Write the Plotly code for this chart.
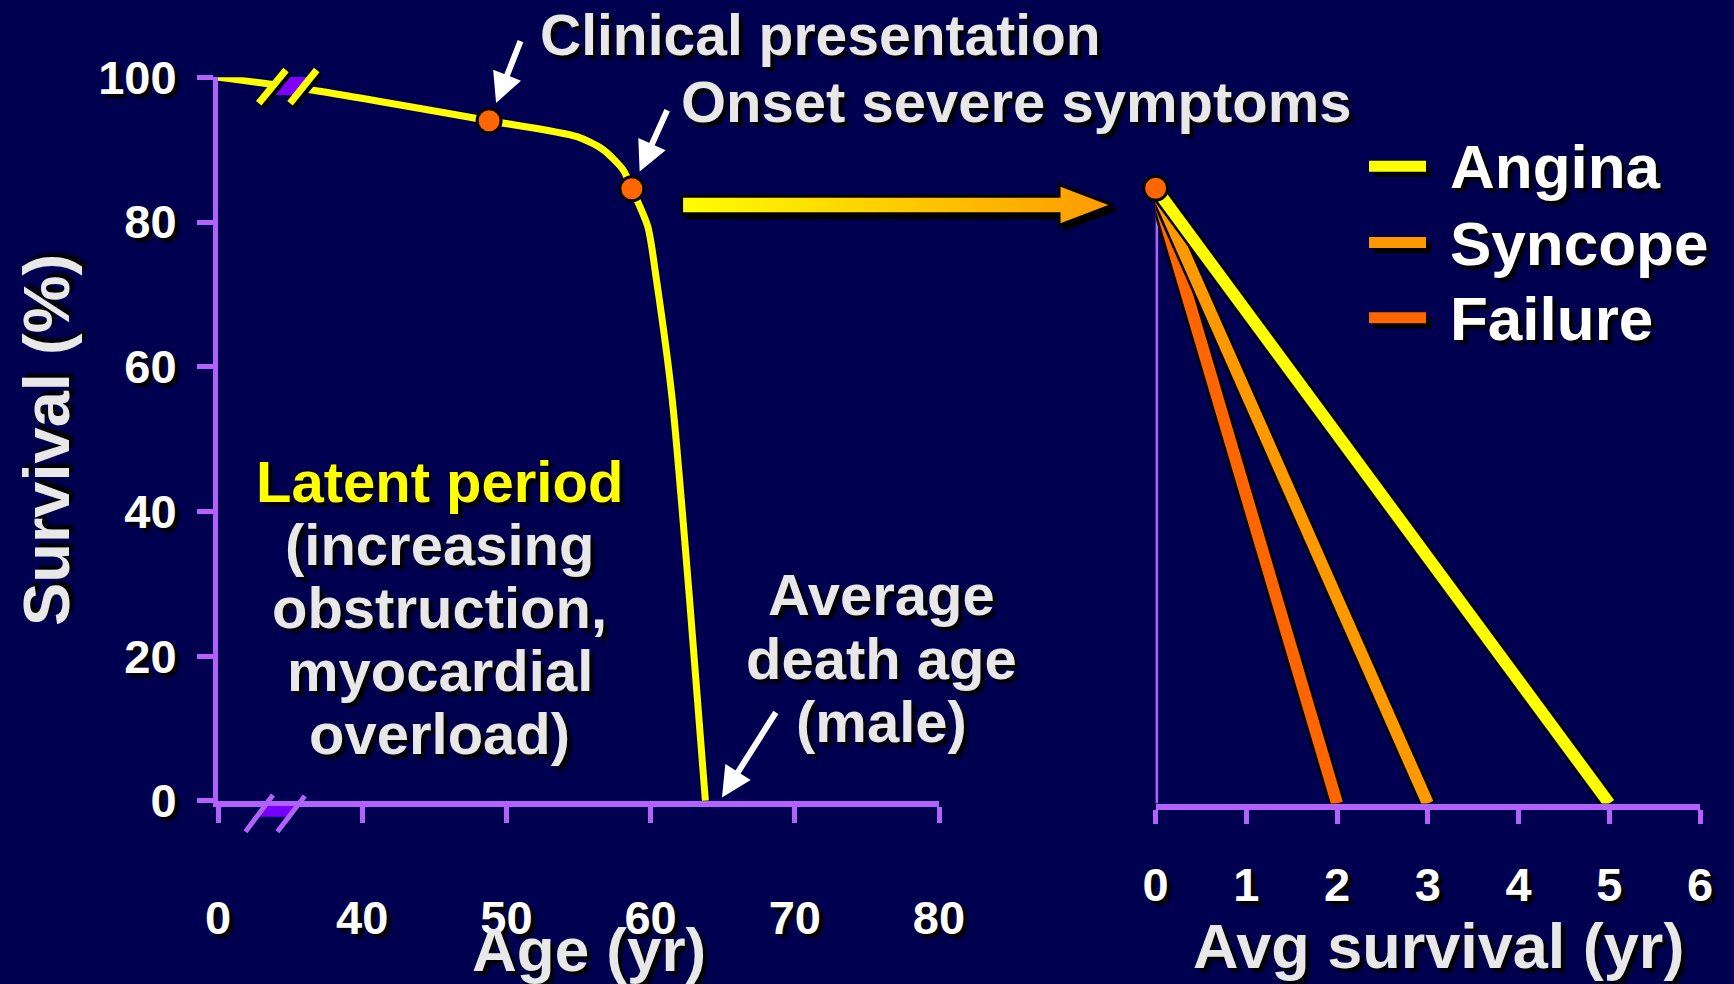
import plotly.graph_objects as go

W, H = 1734, 984

# ---------------- data ----------------
age = [30, 36.6, 48.8, 54.9, 56.7, 58.1, 58.7, 59.8, 60.4, 61.5, 62.7, 63.8]
survival = [100, 98.2, 94.0, 91.8, 90.0, 87.2, 84.6, 79.4, 72.1, 55.5, 27.9, 0]
milestone_age = [48.8, 58.7]
milestone_survival = [94.0, 84.6]
milestone_labels = ["Clinical presentation", "Onset severe symptoms"]
death_age_male = 64.8
symptoms = ["Angina", "Syncope", "Failure"]
avg_survival_yr = [5, 3, 2]
symptom_colors = ["#ffff00", "#ff9900", "#ff6600"]
age_tickvals = [30, 40, 50, 60, 70, 80]
age_ticktext = ["0", "40", "50", "60", "70", "80"]
survival_tickvals = [0, 20, 40, 60, 80, 100]
years_tickvals = [0, 1, 2, 3, 4, 5, 6]
latent_lines = ["Latent period", "(increasing", "obstruction,", "myocardial", "overload)"]
death_lines = ["Average", "death age", "(male)"]

# ---------------- style ----------------
BG = "#000050"
AXIS = "#b262fa"
LABEL = "#e8e8e8"
FAM = "Liberation Sans, Arial, Helvetica, sans-serif"
SHADOW = "4px 4px 3px #000000"


def px_x(p):
    return p / W


def px_y(p):
    return 1 - p / H


def font(size, color=LABEL):
    return dict(family=FAM, size=size, color=color, weight=700, shadow=SHADOW)


fig = go.Figure()

# ---- left panel: survival curve ----
fig.add_trace(go.Scatter(
    x=age, y=survival, mode="lines", xaxis="x", yaxis="y",
    line=dict(color="#ffff00", width=7, shape="spline", smoothing=0.7),
    cliponaxis=False, hoverinfo="skip", showlegend=False))
fig.add_trace(go.Scatter(
    x=milestone_age, y=milestone_survival, mode="markers", xaxis="x", yaxis="y",
    marker=dict(size=24, color="#ff6600", line=dict(color="black", width=3)),
    cliponaxis=False, hoverinfo="skip", showlegend=False))

# ---- right panel: survival after symptom onset ----
onset_s = milestone_survival[1]
fig.add_trace(go.Scatter(
    x=[0, 0], y=[0, onset_s], mode="lines", xaxis="x2", yaxis="y2",
    line=dict(color=AXIS, width=5), cliponaxis=False, hoverinfo="skip", showlegend=False))
for name, yrs, col in reversed(list(zip(symptoms, avg_survival_yr, symptom_colors))):
    fig.add_trace(go.Scatter(
        x=[0, yrs], y=[onset_s, 0], mode="lines", xaxis="x2", yaxis="y2",
        line=dict(color="black", width=17), cliponaxis=False, hoverinfo="skip", showlegend=False))
    fig.add_trace(go.Scatter(
        x=[0, yrs], y=[onset_s, 0], mode="lines", xaxis="x2", yaxis="y2", name=name,
        line=dict(color=col, width=12), cliponaxis=False, hoverinfo="skip", showlegend=False))
fig.add_trace(go.Scatter(
    x=[0], y=[onset_s], mode="markers", xaxis="x2", yaxis="y2",
    marker=dict(size=24, color="#ff6600", line=dict(color="black", width=3)),
    cliponaxis=False, hoverinfo="skip", showlegend=False))

# ---- big gradient arrow between the panels (decoration, pixel overlay) ----
arrow_x = [681.6, 1059, 1059, 1112.8, 1059, 1059, 681.6, 681.6]
arrow_y = [196.2, 196.2, 184.5, 205, 225.5, 213.8, 213.8, 196.2]
fig.add_trace(go.Scatter(
    x=[v + 5 for v in arrow_x], y=[v + 5 for v in arrow_y], xaxis="x3", yaxis="y3",
    mode="lines", fill="toself", fillcolor="black", line=dict(color="black", width=1),
    hoverinfo="skip", showlegend=False))
fig.add_trace(go.Scatter(
    x=arrow_x, y=arrow_y, xaxis="x3", yaxis="y3", mode="lines", fill="toself",
    fillgradient=dict(type="horizontal", colorscale=[[0, "#ffff00"], [1, "#ff9900"]]),
    line=dict(color="black", width=3), hoverinfo="skip", showlegend=False))

# ---- shapes: axis breaks and legend samples ----
shapes = []


def pline(x0, y0, x1, y1, color, width):
    return dict(type="line", xref="paper", yref="paper",
                x0=px_x(x0), y0=px_y(y0), x1=px_x(x1), y1=px_y(y1),
                line=dict(color=color, width=width))


def ppoly(pts, color):
    d = "M " + " L ".join(f"{px_x(a):.5f},{px_y(b):.5f}" for a, b in pts) + " Z"
    return dict(type="path", xref="paper", yref="paper", path=d,
                fillcolor=color, line=dict(width=0))


# break on the curve
shapes.append(ppoly([(277.8, 77), (309.1, 77), (296.8, 95), (265.5, 95)], "#7f00ff"))
for (a, b, c, d) in [(258.7, 103.3, 286, 70), (290, 103.3, 316.7, 70)]:
    shapes.append(pline(a + 3, b + 3, c + 3, d + 3, "black", 7))
    shapes.append(pline(a, b, c, d, "#ffff00", 7))
# break on the age axis
shapes.append(ppoly([(264.8, 806), (296.7, 806), (288.6, 816.7), (256.7, 816.7)], "#7700ff"))
for (a, b, c, d) in [(245.5, 831.7, 273, 795), (277.4, 831.7, 304.8, 796)]:
    shapes.append(pline(a, b, c, d, AXIS, 5))

# legend (manual)
legend_baselines = [188.3, 264.5, 339.8]
annotations = []
for name, col, base in zip(symptoms, symptom_colors, legend_baselines):
    yc = base - 22
    shapes.append(pline(1374, yc + 5, 1431, yc + 5, "black", 11))
    shapes.append(pline(1369, yc, 1426, yc, col, 11))
    annotations.append(dict(
        text=name, x=px_x(1448), y=px_y(base - 0.3465 * 62), xref="paper", yref="paper",
        xanchor="left", yanchor="middle", showarrow=False, font=font(62, "#ffffff")))


def text_ann(text, cx, baseline, size, color=LABEL, angle=0):
    return dict(text=text, x=px_x(cx), y=px_y(baseline - 0.3465 * size),
                xref="paper", yref="paper", xanchor="center", yanchor="middle",
                showarrow=False, font=font(size, color), textangle=angle)


# milestone labels
annotations.append(text_ann(milestone_labels[0], 820.4, 55, 57))
annotations.append(text_ann(milestone_labels[1], 1016.4, 121.7, 58))
# latent period block
for i, t in enumerate(latent_lines):
    annotations.append(text_ann(t, 439.5, 501.7 + 63 * i, 58, "#ffff00" if i == 0 else LABEL))
# average death age block
for i, t in enumerate(death_lines):
    annotations.append(text_ann(t, 881.7, 615 + 63.3 * i, 58))
# axis titles
annotations.append(text_ann("Age (yr)", 588.5, 971, 62))
annotations.append(text_ann("Avg survival (yr)", 1438, 968, 63))
annotations.append(dict(text="Survival (%)", x=px_x(46), y=px_y(440), xref="paper", yref="paper",
                        xanchor="center", yanchor="middle", showarrow=False,
                        font=font(65), textangle=-90))

# white pointer arrows
arrow_style = dict(text="", showarrow=True, arrowhead=2, arrowsize=1.0, arrowwidth=6,
                   arrowcolor="white", axref="pixel", ayref="pixel")
annotations.append(dict(x=milestone_age[0], y=milestone_survival[0], xref="x", yref="y",
                        ax=32, ay=-81, standoff=19, **arrow_style))
annotations.append(dict(x=milestone_age[1], y=milestone_survival[1], xref="x", yref="y",
                        ax=36, ay=-80, standoff=19, **arrow_style))
annotations.append(dict(x=death_age_male, y=0, xref="x", yref="y",
                        ax=57, ay=-90, standoff=4, **arrow_style))

tickfont = dict(family=FAM, size=47, color="#ffffff", weight=700, shadow=SHADOW)
common_axis = dict(showline=True, linecolor=AXIS, ticks="outside", tickcolor=AXIS,
                   tickwidth=5, showgrid=False, zeroline=False, fixedrange=True,
                   automargin=False, tickfont=tickfont)

fig.update_layout(
    width=W, height=H, autosize=False,
    margin=dict(l=0, r=0, t=0, b=0, pad=0, autoexpand=False),
    paper_bgcolor=BG, plot_bgcolor="rgba(0,0,0,0)",
    showlegend=False,
    xaxis=dict(domain=[px_x(218), px_x(939)], range=[30, 80], anchor="y",
               tickvals=age_tickvals, ticktext=age_ticktext, linewidth=6, ticklen=16,
               ticklabelstandoff=55, **common_axis),
    yaxis=dict(domain=[px_y(800.8), px_y(77.3)], range=[0, 100], anchor="x",
               tickvals=survival_tickvals, linewidth=5, ticklen=16,
               ticklabelstandoff=11, **common_axis),
    xaxis2=dict(domain=[px_x(1155.6), px_x(1700)], range=[0, 6], anchor="y2",
                tickvals=years_tickvals, linewidth=6, ticklen=14,
                ticklabelstandoff=21, **common_axis),
    yaxis2=dict(domain=[px_y(803.5), px_y(76.3)], range=[0, 100], anchor="x2",
                visible=False, fixedrange=True, automargin=False),
    xaxis3=dict(domain=[0, 1], range=[0, W], anchor="y3", visible=False,
                fixedrange=True, automargin=False),
    yaxis3=dict(domain=[0, 1], range=[H, 0], anchor="x3", visible=False,
                fixedrange=True, automargin=False),
    shapes=shapes,
    annotations=annotations,
)

fig.write_html(
    "out.html",
    config={"displayModeBar": False},
    post_script="document.body.style.margin='0';document.body.style.background='#000050';",
)
